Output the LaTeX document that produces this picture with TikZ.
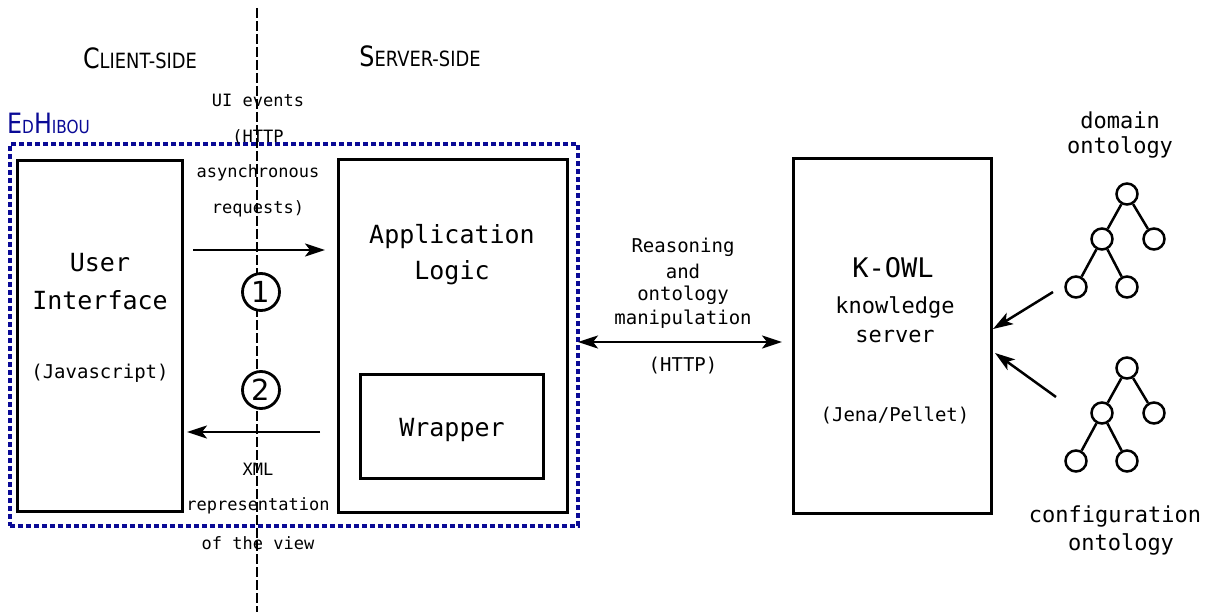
\documentclass[tikz,border=0pt]{standalone}
\usepackage{fontspec}
\usetikzlibrary{arrows.meta}
\newfontfamily\monof{DejaVu Sans Mono}
\newfontfamily\sansf{DejaVu Sans}
\newfontfamily\condf[FakeStretch=0.85]{DejaVu Sans}
\definecolor{edblue}{RGB}{10,10,150}
\tikzset{
  box/.style={draw, line width=3pt, anchor=north west, inner sep=0pt, outer sep=0pt},
  lbl/.style={inner sep=0pt, font=\monof\fontsize{17}{17}\selectfont},
  mlbl/.style={inner sep=0pt, font=\monof\fontsize{19}{19}\selectfont},
  blbl/.style={inner sep=0pt, font=\monof\fontsize{25}{25}\selectfont},
  olbl/.style={inner sep=0pt, font=\monof\fontsize{22}{22}\selectfont},
  arr/.style={line width=2.5pt, -{Stealth[length=20pt,width=13pt,inset=5pt]}},
  darr/.style={line width=2.5pt, {Stealth[length=20pt,width=13pt,inset=5pt]}-{Stealth[length=20pt,width=13pt,inset=5pt]}},
  vdash/.style={line width=1.5pt, dash pattern=on 10pt off 3pt},
  numc/.style={circle, draw, fill=white, line width=2.8pt, minimum size=37pt, inner sep=0pt, font=\sansf\fontsize{29}{29}\selectfont},
  tn/.style={circle, draw, fill=white, line width=2.5pt, minimum size=21pt, inner sep=0pt},
  tedge/.style={line width=2.5pt},
}
\begin{document}
\begin{tikzpicture}[x=1pt, y=-1pt]
\useasboundingbox (0,0) rectangle (1214,612);
% vertical separator
\coordinate (vt) at (257,8);
\coordinate (vb) at (257,612);
\draw[vdash] (vt) -- (vb);
% headings
\node[inner sep=0pt, font=\condf] (client) at (140,58) {{\fontsize{28}{28}\selectfont C}{\fontsize{21}{21}\selectfont LIENT-SIDE}};
\node[inner sep=0pt, font=\condf] (server) at (420,56) {{\fontsize{28}{28}\selectfont S}{\fontsize{21}{21}\selectfont ERVER-SIDE}};
\node[inner sep=0pt, anchor=west, text=edblue, font=\condf] (edlbl) at (7,123) {{\fontsize{28}{28}\selectfont E}{\fontsize{18}{18}\selectfont D}{\fontsize{28}{28}\selectfont H}{\fontsize{18}{18}\selectfont IBOU}};
% boxes
\node[draw=edblue, line width=3.2pt, dash pattern=on 5pt off 3pt, anchor=north west, inner sep=0pt, outer sep=0pt, minimum width=568pt, minimum height=382pt] (ed) at (10,144) {};
\node[box, minimum width=165pt, minimum height=350pt] (ui) at (17,161) {};
\node[box, minimum width=229pt, minimum height=352pt] (app) at (338,160) {};
\node[box, minimum width=183pt, minimum height=104pt] (wrap) at (360,374) {};
\node[box, minimum width=198pt, minimum height=354pt] (kowl) at (793,159) {};
% box texts
\node[blbl] (t_user) at (100,263) {User};
\node[blbl] (t_iface) at (100,300) {Interface};
\node[mlbl] (t_js) at (100,373) {(Javascript)};
\node[blbl] (t_app) at (452,237) {Application};
\node[blbl] (t_logic) at (452,273) {Logic};
\node[blbl] (t_wrap) at (452,430) {Wrapper};
\node[inner sep=0pt, font=\monof\fontsize{27}{27}\selectfont] (t_kowl) at (893,268) {K-OWL};
\node[olbl] (t_know) at (895,307) {knowledge};
\node[olbl] (t_serv) at (895,336) {server};
\node[mlbl] (t_jena) at (895,415) {(Jena/Pellet)};
% arrows between client and server
\coordinate (ya) at (0,250);
\coordinate (yb) at (0,432);
\coordinate (yc) at (0,342);
\draw[arr, shorten <=11pt, shorten >=13pt] (ui.east |- ya) -- (app.west |- ya);
\draw[arr, shorten <=18pt, shorten >=5pt] (app.west |- yb) -- (ui.east |- yb);
\draw[darr, shorten >=11pt] (ed.east |- yc) -- (kowl.west |- yc);
\node[numc] (c1) at (261,292) {1};
\node[numc] (c2) at (261,390) {2};
% labels on middle
\node[lbl] (l1) at (258,100) {UI events};
\node[lbl] (l2) at (258,137) {(HTTP};
\node[lbl] (l3) at (258,173) {asynchronous};
\node[lbl] (l4) at (258,209) {requests)};
\node[lbl] (l5) at (258,469) {XML};
\node[lbl] (l6) at (258,506) {representation};
\node[lbl] (l7) at (258,543) {of the view};
\node[mlbl] (r1) at (683,247) {Reasoning};
\node[mlbl] (r2) at (683,271) {and};
\node[mlbl] (r3) at (683,295) {ontology};
\node[mlbl] (r4) at (683,319) {manipulation};
\node[mlbl] (r5) at (683,366) {(HTTP)};
% ontologies
\node[olbl] (d1) at (1120,120) {domain};
\node[olbl] (d2) at (1120,147) {ontology};
\node[olbl] (g1) at (1115,517) {configuration};
\node[olbl] (g2) at (1121,544) {ontology};
\node[tn] (a0) at (1127,194) {};
\node[tn] (a1) at (1102,239) {};
\node[tn] (a2) at (1154,239) {};
\node[tn] (a3) at (1076,287) {};
\node[tn] (a4) at (1127,287) {};
\draw[tedge] (a0) -- (a1); \draw[tedge] (a0) -- (a2);
\draw[tedge] (a1) -- (a3); \draw[tedge] (a1) -- (a4);
\node[tn] (b0) at (1127,368) {};
\node[tn] (b1) at (1102,413) {};
\node[tn] (b2) at (1154,413) {};
\node[tn] (b3) at (1076,461) {};
\node[tn] (b4) at (1127,461) {};
\draw[tedge] (b0) -- (b1); \draw[tedge] (b0) -- (b2);
\draw[tedge] (b1) -- (b3); \draw[tedge] (b1) -- (b4);
\coordinate (sa) at (1053,292);
\coordinate (ka) at (993,329);
\coordinate (sb) at (1056,397);
\coordinate (kb) at (995,353);
\draw[arr] (sa) -- (ka);
\draw[arr] (sb) -- (kb);
\end{tikzpicture}
\end{document}
